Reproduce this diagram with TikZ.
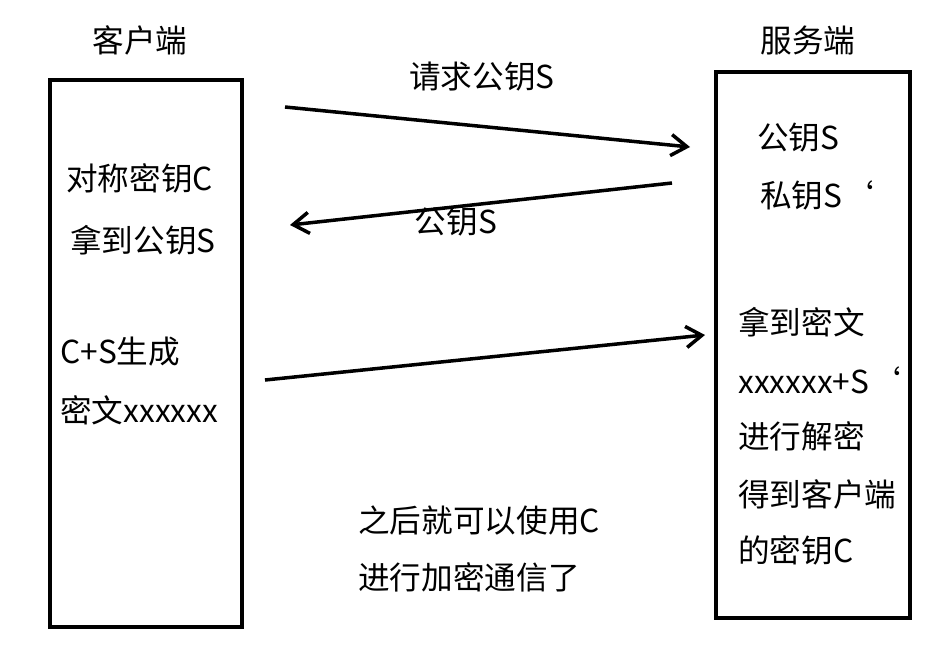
\documentclass[tikz,border=0pt]{standalone}
\usepackage{fontspec}
\setmainfont{Noto Sans CJK SC}
\usetikzlibrary{positioning}
\usetikzlibrary{arrows.meta}
\newcommand{\grv}{\symbol{96}}
\tikzset{
  side/.style={draw=black, line width=2.2pt},
  msg/.style={line width=2pt, -{Straight Barb[length=9pt,width=12pt,line width=2pt]}},
  txt/.style={font=\fontsize{18}{21}\selectfont, inner sep=0pt},
  lt/.style={txt, anchor=west}
}
\begin{document}
\begin{tikzpicture}[x=0.02cm, y=-0.02cm]
  \useasboundingbox (0,0) rectangle (937,656);
  % the two parties
  \draw[side] (50,80) rectangle (242,627);
  \draw[side] (716,72) rectangle (910,618);
  \node[txt] (client) at (140,40) {客户端};
  \node[txt] (server) at (808,40) {服务端};
  % client side notes
  \node[lt] (c1) at (66,178) {对称密钥C};
  \node[lt] (c2) at (70,240) {拿到公钥S};
  \node[lt] (c3) at (60,352) {C+S生成};
  \node[lt] (c4) at (60,410) {密文xxxxxx};
  % server side notes
  \node[lt] (s1) at (757,138) {公钥S};
  \node[lt] (s2) at (760,195) {私钥S\grv};
  \node[lt] (s3) at (738,322) {拿到密文};
  \node[lt] (s4) at (738,380) {xxxxxx+S\grv};
  \node[lt] (s5) at (738,436) {进行解密};
  \node[lt] (s6) at (738,494) {得到客户端};
  \node[lt] (s7) at (738,550) {的密钥C};
  % messages
  \coordinate (a1) at (285,107);
  \coordinate (b1) at (690,147);
  \coordinate (a2) at (672,183);
  \coordinate (b2) at (290,225);
  \coordinate (a3) at (265,380);
  \coordinate (b3) at (705,335);
  \draw[msg] (a1) -- (b1);
  \draw[msg] (a2) -- (b2);
  \draw[msg] (a3) -- (b3);
  \node[txt] (m1) at (482,77) {请求公钥S};
  \node[txt] (m2) at (456,222) {公钥S};
  % afterwards
  \node[lt] (n1) at (358,520) {之后就可以使用C};
  \node[lt] (n2) at (358,577) {进行加密通信了};
\end{tikzpicture}
\end{document}
